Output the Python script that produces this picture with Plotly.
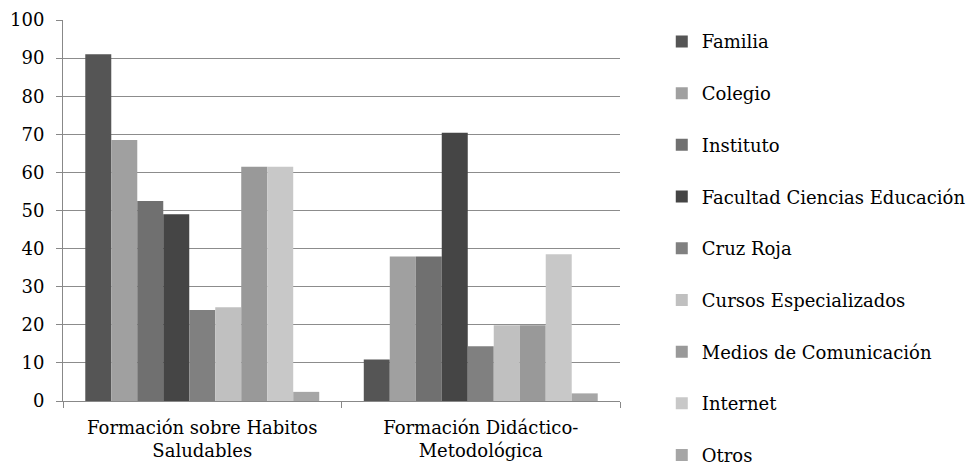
import plotly.graph_objects as go

categories = ["Formación sobre Habitos<br>Saludables", "Formación Didáctico-<br>Metodológica"]
series_names = ["Familia", "Colegio", "Instituto", "Facultad Ciencias Educación", "Cruz Roja",
                "Cursos Especializados", "Medios de Comunicación", "Internet", "Otros"]
familia = [91.0, 10.9]
colegio = [68.5, 37.9]
instituto = [52.5, 37.9]
facultad = [49.0, 70.4]
cruz_roja = [23.9, 14.4]
cursos = [24.6, 19.9]
medios = [61.5, 19.9]
internet = [61.5, 38.5]
otros = [2.4, 2.0]
series_values = [familia, colegio, instituto, facultad, cruz_roja, cursos, medios, internet, otros]
colors = ["#555555", "#a0a0a0", "#707070", "#454545", "#808080", "#c0c0c0", "#999999", "#c8c8c8", "#a6a6a6"]
y_ticks = [0, 10, 20, 30, 40, 50, 60, 70, 80, 90, 100]

FONT = "DejaVu Serif"
FS = 18

fig = go.Figure()
for name, vals, col in zip(series_names, series_values, colors):
    fig.add_trace(go.Bar(name=name, x=categories, y=vals, marker=dict(color=col, line=dict(width=0)),
                         legendgroup=name))

fig.update_layout(
    width=979, height=466,
    margin=dict(l=55, r=367, t=12, b=73, autoexpand=False),
    paper_bgcolor="white", plot_bgcolor="white",
    barmode="group", bargap=0.16, bargroupgap=0,
    font=dict(family=FONT, size=FS, color="#000000"),
    showlegend=True,
    legend=dict(x=1.075, xanchor="left", y=0.9915, yanchor="top",
                font=dict(family=FONT, size=FS, color="#000000"),
                tracegroupgap=25.3, itemwidth=30, bgcolor="rgba(0,0,0,0)",
                maxheight=600),
    xaxis=dict(showline=True, linecolor="#888888", linewidth=1, ticks="outside", tickson="boundaries",
               ticklen=6, tickcolor="#888888", showgrid=False, ticklabelstandoff=10,
               tickfont=dict(family=FONT, size=FS, color="#000000")),
    yaxis=dict(range=[0, 100], tickvals=y_ticks, showline=True, linecolor="#888888", linewidth=1,
               ticks="outside", ticklen=6, tickcolor="#888888", showgrid=True, gridcolor="#8c8c8c",
               gridwidth=1, zeroline=False, ticklabelstandoff=8,
               tickfont=dict(family=FONT, size=FS, color="#000000")),
)

fig.write_html("out.html")
